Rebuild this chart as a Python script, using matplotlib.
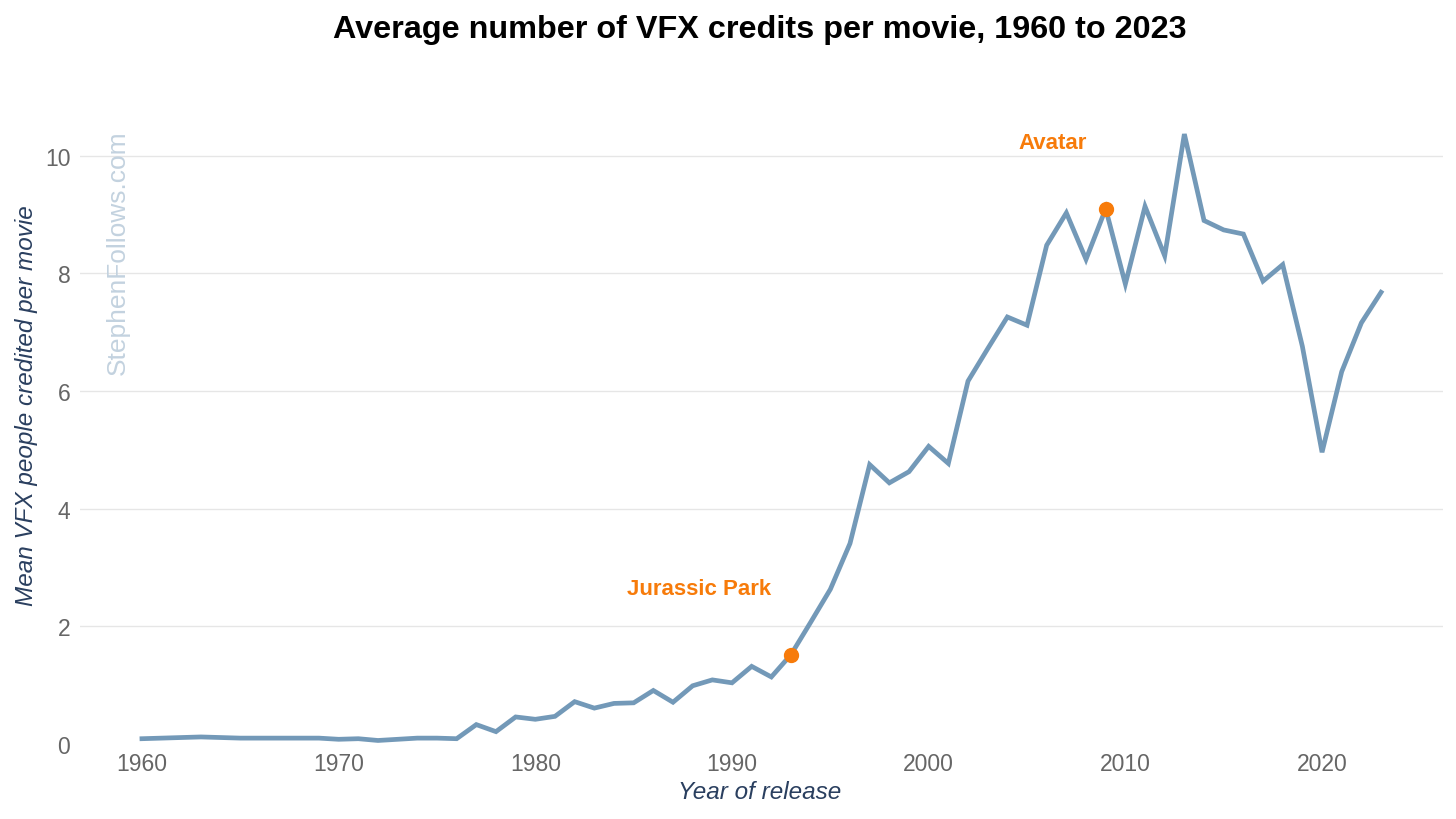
import matplotlib.pyplot as plt

# Data
years = list(range(1960, 2024))
mean_vfx = [
    0.09, 0.10, 0.11, 0.12, 0.11, 0.10, 0.10, 0.10, 0.10, 0.10,
    0.08, 0.09, 0.06, 0.08, 0.10, 0.10, 0.09, 0.33, 0.21, 0.46,
    0.42, 0.47, 0.72, 0.61, 0.69, 0.70, 0.91, 0.71, 0.99, 1.09,
    1.04, 1.32, 1.14, 1.52, 2.07, 2.63, 3.41, 4.75, 4.44, 4.63,
    5.06, 4.77, 6.17, 6.72, 7.26, 7.12, 8.48, 9.03, 8.24, 9.10,
    7.82, 9.14, 8.30, 10.37, 8.90, 8.74, 8.67, 7.87, 8.15, 6.76,
    4.96, 6.33, 7.16, 7.68,
]

highlights = ["Jurassic Park", "Avatar"]
highlight_years = [1993, 2009]
# text offsets of the labels from their point, in pixels
label_offsets = [(-92, 66), (-53, 66)]

line_color = "#7399b8"
orange = "#f77b0a"
label_color = "#2a3f5f"
tick_color = "#666666"

plt.rcParams["font.family"] = ["Liberation Sans", "DejaVu Sans"]

fig = plt.figure(figsize=(14.56, 8.2), dpi=100)
ax = fig.add_axes([80 / 1456, 75 / 820, 1363 / 1456, 647 / 820])

ax.plot(years, mean_vfx, color=line_color, linewidth=3.4, solid_joinstyle="miter",
        clip_on=False, zorder=3)

for name, yr, off in zip(highlights, highlight_years, label_offsets):
    val = mean_vfx[years.index(yr)]
    ax.plot(yr, val, "o", color=orange, markersize=10, zorder=4)
    ax.annotate(name, xy=(yr, val), xytext=off, textcoords="offset pixels",
                ha="center", va="center", color=orange, fontsize=16,
                fontweight="bold")

ax.set_xlim(1956.85, 2026.15)
ax.set_ylim(0, 11)
ax.set_xticks([1960, 1970, 1980, 1990, 2000, 2010, 2020])
ax.set_yticks([0, 2, 4, 6, 8, 10])

ax.grid(axis="y", color="#e6e6e6", linewidth=1)
ax.yaxis.get_gridlines()[0].set_visible(False)
ax.set_axisbelow(True)

for spine in ax.spines.values():
    spine.set_visible(False)

ax.tick_params(axis="both", length=0, labelsize=16.5, labelcolor=tick_color)
ax.tick_params(axis="y", pad=7)
ax.tick_params(axis="x", pad=6)

ax.set_xlabel("Year of release", fontsize=17.5, style="italic", color=label_color)
ax.set_ylabel("Mean VFX people credited per movie", fontsize=17.5, style="italic",
              color=label_color)
ax.xaxis.set_label_coords((760 - 80) / 1363, (745 - 793) / 647)
ax.yaxis.set_label_coords((27 - 80) / 1363, (745 - 406) / 647)
ax.xaxis.label.set_va("center")
ax.yaxis.label.set_va("center")

fig.text(760 / 1456, 1 - 30 / 820, "Average number of VFX credits per movie, 1960 to 2023",
         ha="center", va="center", fontsize=23.3, fontweight="bold", color="black")

# watermark
fig.text(118 / 1456, 1 - 253 / 820, "StephenFollows.com", rotation=90,
         ha="center", va="center", fontsize=19, color="#c3d2df")

fig.savefig("out.png", dpi=100)
